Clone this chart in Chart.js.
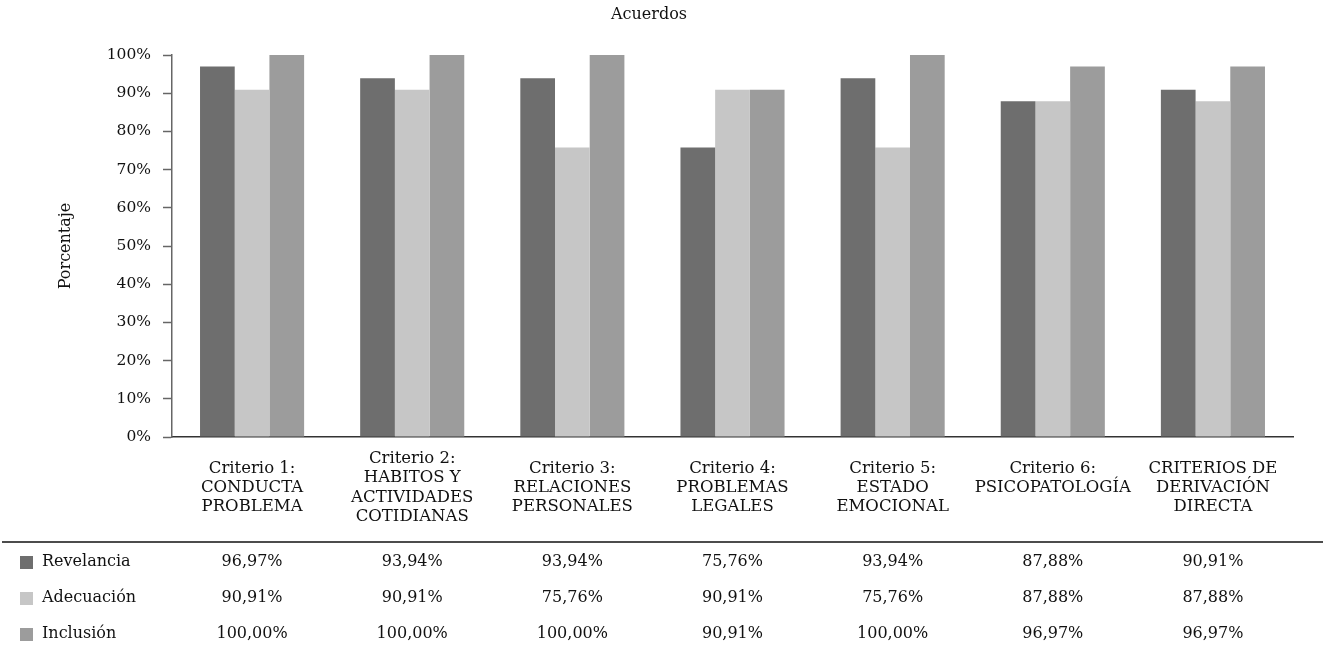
<!DOCTYPE html>
<html>
<head>
<meta charset="utf-8">
<script src="https://cdn.jsdelivr.net/npm/chart.js@4/dist/chart.umd.min.js"></script>
<style>
  html, body { margin: 0; padding: 0; background: #fff; }
  #wrap { width: 1328px; height: 648px; }
</style>
</head>
<body>
<div id="wrap"><canvas id="chart"></canvas></div>
<script>
const categories = [
    ['Criterio 1:', 'CONDUCTA', 'PROBLEMA'],
    ['Criterio 2:', 'HABITOS Y', 'ACTIVIDADES', 'COTIDIANAS'],
    ['Criterio 3:', 'RELACIONES', 'PERSONALES'],
    ['Criterio 4:', 'PROBLEMAS', 'LEGALES'],
    ['Criterio 5:', 'ESTADO', 'EMOCIONAL'],
    ['Criterio 6:', 'PSICOPATOLOGÍA', ''],
    ['CRITERIOS DE', 'DERIVACIÓN', 'DIRECTA']
];
const revelancia = [96.97, 93.94, 93.94, 75.76, 93.94, 87.88, 90.91];
const adecuacion = [90.91, 90.91, 75.76, 90.91, 75.76, 87.88, 87.88];
const inclusion = [100.00, 100.00, 100.00, 90.91, 100.00, 96.97, 96.97];
const yTicks = [0, 10, 20, 30, 40, 50, 60, 70, 80, 90, 100];
const chartTitle = 'Acuerdos';

const FONT = 'DejaVu Serif';

// title plus the data table under the x axis
const dataTable = {
    id: 'dataTable',
    afterDraw(chart) {
        const ctx = chart.ctx;
        const x = chart.scales.x;
        ctx.save();
        ctx.fillStyle = '#111';
        ctx.font = '16px "' + FONT + '"';
        ctx.textAlign = 'center';
        ctx.textBaseline = 'middle';
        ctx.fillText(chartTitle, 649, 15);

        const lineY = 542;
        ctx.strokeStyle = '#111';
        ctx.lineWidth = 1.5;
        ctx.beginPath();
        ctx.moveTo(2, lineY);
        ctx.lineTo(1323, lineY);
        ctx.stroke();

        chart.data.datasets.forEach((ds, r) => {
            const y = 562 + r * 36;
            ctx.fillStyle = ds.backgroundColor;
            ctx.fillRect(20, y - 6, 13, 13);
            ctx.fillStyle = '#111';
            ctx.textAlign = 'left';
            ctx.fillText(ds.label, 42, y);
            ctx.textAlign = 'center';
            ds.data.forEach((v, i) => {
                ctx.fillText(v.toFixed(2).replace('.', ',') + '%', x.getPixelForValue(i), y);
            });
        });
        ctx.restore();
    }
};

new Chart(document.getElementById('chart'), {
    type: 'bar',
    data: {
        labels: categories,
        datasets: [
            { label: 'Revelancia', data: revelancia, backgroundColor: '#6e6e6e' },
            { label: 'Adecuación', data: adecuacion, backgroundColor: '#c6c6c6' },
            { label: 'Inclusión', data: inclusion, backgroundColor: '#9c9c9c' }
        ]
    },
    options: {
        responsive: true,
        maintainAspectRatio: false,
        animation: false,
        layout: { padding: { left: 56, right: 35, top: 55, bottom: 106 } },
        datasets: {
            bar: { categoryPercentage: 0.65, barPercentage: 1.0 }
        },
        plugins: {
            legend: { display: false },
            tooltip: { enabled: false },
            title: { display: false }
        },
        scales: {
            x: {
                grid: { display: false },
                border: { display: true, color: '#333', width: 1.5 },
                ticks: {
                    color: '#111',
                    font: { family: FONT, size: 16.5, lineHeight: 1.16 },
                    padding: 14,
                    maxRotation: 0,
                    autoSkip: false,
                    crossAlign: 'center'
                },
                afterFit(scale) { scale.height = 105; }
            },
            y: {
                min: 0,
                max: 100,
                afterBuildTicks(scale) { scale.ticks = yTicks.map(v => ({ value: v })); },
                grid: { drawOnChartArea: false, tickLength: 9, color: '#666', tickWidth: 1.5 },
                border: { display: true, color: '#666', width: 1.5 },
                ticks: {
                    color: '#111',
                    padding: 12,
                    font: { family: FONT, size: 15.5 },
                    callback: v => v + '%'
                },
                title: {
                    display: true,
                    text: 'Porcentaje',
                    color: '#111',
                    font: { family: FONT, size: 16 },
                    padding: 0
                },
                afterFit(scale) { scale.width = 116; }
            }
        }
    },
    plugins: [dataTable]
});
</script>
</body>
</html>
